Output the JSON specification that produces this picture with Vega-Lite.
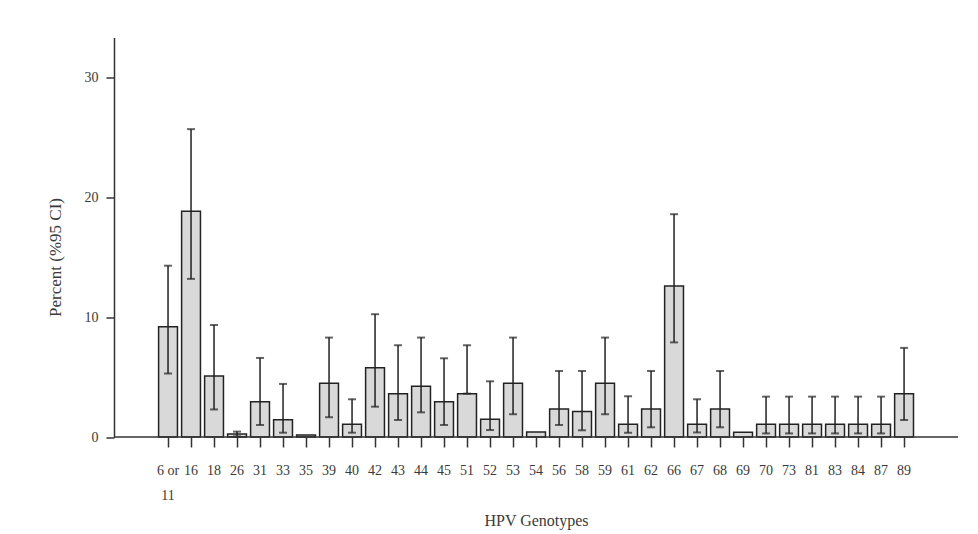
{
  "$schema": "https://vega.github.io/schema/vega-lite/v6.json",
  "width": 844,
  "height": 399.5,
  "autosize": {"type": "none"},
  "padding": {"left": 114, "top": 37.5, "right": 20, "bottom": 97},
  "background": "white",
  "config": {
    "view": {"stroke": null},
    "axis": {
      "domainColor": "#333333",
      "domainWidth": 1.5,
      "tickColor": "#333333",
      "tickWidth": 1.5,
      "labelFont": "Liberation Serif",
      "labelColor": "#3a3a3a",
      "titleFont": "Liberation Serif",
      "titleColor": "#3a3a3a",
      "titleFontWeight": "normal",
      "grid": false
    }
  },
  "data": {
    "values": [
      {"genotype": "6 or 11", "value": 9.2, "lo": 5.3, "hi": 14.3},
      {"genotype": "16", "value": 18.85, "lo": 13.2, "hi": 25.7},
      {"genotype": "18", "value": 5.1, "lo": 2.3, "hi": 9.35},
      {"genotype": "26", "value": 0.25, "lo": 0.05, "hi": 0.45},
      {"genotype": "31", "value": 2.95, "lo": 1.0, "hi": 6.6},
      {"genotype": "33", "value": 1.45, "lo": 0.36, "hi": 4.43},
      {"genotype": "35", "value": 0.17, "lo": null, "hi": null},
      {"genotype": "39", "value": 4.48, "lo": 1.65, "hi": 8.3},
      {"genotype": "40", "value": 1.06, "lo": 0.36, "hi": 3.15},
      {"genotype": "42", "value": 5.79, "lo": 2.53, "hi": 10.25},
      {"genotype": "43", "value": 3.62, "lo": 1.42, "hi": 7.66},
      {"genotype": "44", "value": 4.24, "lo": 2.06, "hi": 8.3},
      {"genotype": "45", "value": 2.95, "lo": 1.0, "hi": 6.57},
      {"genotype": "51", "value": 3.62, "lo": 3.62, "hi": 7.66},
      {"genotype": "52", "value": 1.48, "lo": 0.58, "hi": 4.65},
      {"genotype": "53", "value": 4.48, "lo": 1.9, "hi": 8.3},
      {"genotype": "54", "value": 0.42, "lo": null, "hi": null},
      {"genotype": "56", "value": 2.34, "lo": 1.0, "hi": 5.51},
      {"genotype": "58", "value": 2.12, "lo": 0.56, "hi": 5.51},
      {"genotype": "59", "value": 4.48, "lo": 1.9, "hi": 8.3},
      {"genotype": "61", "value": 1.06, "lo": 0.36, "hi": 3.4},
      {"genotype": "62", "value": 2.34, "lo": 0.81, "hi": 5.51},
      {"genotype": "66", "value": 12.6, "lo": 7.9, "hi": 18.6},
      {"genotype": "67", "value": 1.06, "lo": 0.38, "hi": 3.15},
      {"genotype": "68", "value": 2.34, "lo": 0.81, "hi": 5.51},
      {"genotype": "69", "value": 0.4, "lo": null, "hi": null},
      {"genotype": "70", "value": 1.06, "lo": 0.3, "hi": 3.37},
      {"genotype": "73", "value": 1.06, "lo": 0.3, "hi": 3.37},
      {"genotype": "81", "value": 1.06, "lo": 0.3, "hi": 3.37},
      {"genotype": "83", "value": 1.06, "lo": 0.3, "hi": 3.37},
      {"genotype": "84", "value": 1.06, "lo": 0.3, "hi": 3.37},
      {"genotype": "87", "value": 1.06, "lo": 0.3, "hi": 3.37},
      {"genotype": "89", "value": 3.62, "lo": 1.42, "hi": 7.44}
    ]
  },
  "encoding": {
    "x": {
      "field": "genotype",
      "type": "nominal",
      "sort": null,
      "scale": {"paddingInner": 0.18, "paddingOuter": 1, "range": [21.6, 822.5]},
      "axis": {
        "title": "HPV Genotypes",
        "titleFontSize": 16,
        "titleBaseline": "middle",
        "titleX": 422,
        "titleY": 83,
        "domain": false,
        "labelAngle": 0,
        "labelFontSize": 14,
        "labelPadding": 16,
        "labelLineHeight": 25,
        "tickSize": 10,
        "labelExpr": "datum.value == '6 or 11' ? ['6 or', '11'] : datum.value"
      }
    }
  },
  "layer": [
    {
      "mark": {"type": "bar", "fill": "#d9d9d9", "stroke": "#222222", "strokeWidth": 1.5},
      "encoding": {
        "y": {
          "field": "value",
          "type": "quantitative",
          "scale": {"domain": [0, 33.35], "nice": false},
          "axis": {
            "title": "Percent (%95 CI)",
            "titleFontSize": 17,
            "titleX": -59,
            "titleY": 219.5,
            "titleBaseline": "middle",
            "titleAlign": "center",
            "values": [0, 10, 20, 30],
            "labelFontSize": 14,
            "labelPadding": 8,
            "tickSize": 8
          }
        }
      }
    },
    {
      "mark": {"type": "rule", "color": "#222222", "strokeWidth": 1.5},
      "encoding": {
        "y": {"field": "lo", "type": "quantitative"},
        "y2": {"field": "hi"}
      }
    },
    {
      "mark": {"type": "tick", "color": "#222222", "thickness": 2, "size": 8},
      "encoding": {"y": {"field": "hi", "type": "quantitative"}}
    },
    {
      "mark": {"type": "tick", "color": "#222222", "thickness": 2, "size": 8},
      "encoding": {"y": {"field": "lo", "type": "quantitative"}}
    },
    {
      "data": {"values": [{"baseline": 0}]},
      "mark": {"type": "rule", "color": "#333333", "strokeWidth": 1.5},
      "encoding": {
        "x": null,
        "y": {"field": "baseline", "type": "quantitative"}
      }
    }
  ]
}
